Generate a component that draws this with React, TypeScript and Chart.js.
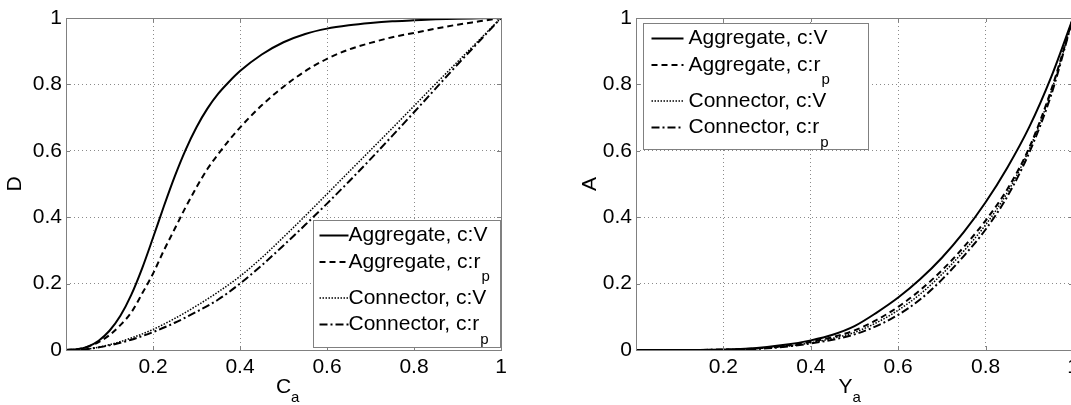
import React, { useEffect, useRef } from "react";
import { Chart, registerables } from "chart.js";

Chart.register(...registerables);

// ---------- data: left panel (D vs C_a) ----------
const aggXLeft = [0, 0.025, 0.05, 0.075, 0.1, 0.125, 0.15, 0.175, 0.2, 0.225, 0.25, 0.275, 0.3, 0.325, 0.35, 0.375, 0.4, 0.45, 0.5, 0.55, 0.6, 0.65, 0.7, 0.75, 0.8, 0.85, 0.9, 0.95, 1];
const aggVLeft = [0, 0.002, 0.01, 0.028, 0.058, 0.103, 0.166, 0.246, 0.338, 0.433, 0.523, 0.603, 0.671, 0.727, 0.772, 0.808, 0.84, 0.89, 0.927, 0.952, 0.968, 0.978, 0.985, 0.99, 0.993, 0.996, 0.998, 0.999, 1];
const aggRpLeft = [0, 0.002, 0.01, 0.024, 0.045, 0.075, 0.113, 0.17, 0.23, 0.3, 0.365, 0.43, 0.49, 0.545, 0.59, 0.632, 0.67, 0.737, 0.793, 0.84, 0.877, 0.905, 0.925, 0.942, 0.955, 0.968, 0.98, 0.99, 1];
const connXLeft = [0, 0.05, 0.1, 0.15, 0.2, 0.25, 0.3, 0.35, 0.4, 0.45, 0.5, 0.55, 0.6, 0.65, 0.7, 0.75, 0.8, 0.85, 0.9, 0.95, 1];
const connVLeft = [0, 0.003, 0.016, 0.036, 0.062, 0.095, 0.133, 0.175, 0.222, 0.278, 0.34, 0.404, 0.47, 0.536, 0.602, 0.668, 0.735, 0.802, 0.868, 0.934, 1];
const connRpLeft = [0, 0.003, 0.014, 0.031, 0.054, 0.082, 0.115, 0.152, 0.2, 0.255, 0.315, 0.377, 0.441, 0.507, 0.575, 0.645, 0.716, 0.788, 0.86, 0.93, 1];

// ---------- data: right panel (A vs Y_a) ----------
const xRight = [0, 0.1, 0.2, 0.25, 0.3, 0.35, 0.4, 0.45, 0.5, 0.55, 0.6, 0.65, 0.7, 0.75, 0.8, 0.85, 0.9, 0.95, 1];
const aggVRight = [0, 0, 0.0015, 0.004, 0.009, 0.017, 0.029, 0.046, 0.072, 0.112, 0.158, 0.213, 0.278, 0.355, 0.445, 0.55, 0.672, 0.822, 1];
const aggRpRight = [0, 0, 0.001, 0.003, 0.007, 0.014, 0.025, 0.039, 0.059, 0.09, 0.13, 0.18, 0.24, 0.31, 0.39, 0.485, 0.61, 0.783, 1];
const connVRight = [0, 0, 0.001, 0.003, 0.006, 0.012, 0.022, 0.035, 0.053, 0.082, 0.12, 0.168, 0.228, 0.298, 0.377, 0.475, 0.605, 0.778, 1];
const connRpRight = [0, 0, 0.001, 0.002, 0.005, 0.011, 0.02, 0.031, 0.047, 0.072, 0.106, 0.152, 0.212, 0.283, 0.363, 0.463, 0.595, 0.768, 1];

// ---------- labels ----------
const tickValues = [0, 0.2, 0.4, 0.6, 0.8, 1];
const legendLabels = ["Aggregate, c:V", "Aggregate, c:r", "Connector, c:V", "Connector, c:r"];
const legendSubs = ["", "p", "", "p"];

const FONT = '"Liberation Sans", Arial, Helvetica, sans-serif';
const MAIN = 21;
const SUB = 15;

const styles = [
  { dash: [] as number[], width: 2 },
  { dash: [6, 4], width: 2 },
  { dash: [1.5, 1.5], width: 1.5 },
  { dash: [8, 3, 2, 3], width: 2 },
];

const pts = (xs: number[], ys: number[]) => xs.map((x, i) => ({ x, y: ys[i] }));

const decorPlugin = {
  id: "decor",
  afterDatasetsDraw(chart: any, _args: any, opts: any) {
    const { ctx, chartArea: a } = chart;
    const xs = chart.scales.x;
    const ys = chart.scales.y;
    ctx.save();
    ctx.setLineDash([]);
    // inward tick marks
    ctx.strokeStyle = "#808080";
    ctx.lineWidth = 1;
    tickValues.forEach((v) => {
      const px = Math.round(xs.getPixelForValue(v)) + 0.5;
      ctx.beginPath();
      ctx.moveTo(px, a.bottom);
      ctx.lineTo(px, a.bottom - 4);
      ctx.moveTo(px, a.top);
      ctx.lineTo(px, a.top + 4);
      const py = Math.round(ys.getPixelForValue(v)) + 0.5;
      ctx.moveTo(a.left, py);
      ctx.lineTo(a.left + 4, py);
      ctx.moveTo(a.right, py);
      ctx.lineTo(a.right - 4, py);
      ctx.stroke();
    });
    // box
    ctx.strokeRect(Math.round(a.left) + 0.5, Math.round(a.top) + 0.5, Math.round(a.right - a.left), Math.round(a.bottom - a.top));

    // legend
    const L = opts.legend;
    const bx = Math.round(a.left + L.dx) + 0.5;
    const by = Math.round(a.top + L.dy) + 0.5;
    ctx.fillStyle = "#ffffff";
    ctx.fillRect(bx, by, L.w, L.h);
    ctx.strokeStyle = "#808080";
    ctx.lineWidth = 1;
    ctx.strokeRect(bx, by, L.w, L.h);
    const rows = [15, 41.5, 77.5, 104];
    legendLabels.forEach((lab, i) => {
      const ry = by + rows[i];
      ctx.strokeStyle = "#000";
      ctx.lineWidth = styles[i].width;
      ctx.setLineDash(styles[i].dash);
      ctx.beginPath();
      ctx.moveTo(bx + L.s0, ry);
      ctx.lineTo(bx + L.s1, ry);
      ctx.stroke();
      ctx.setLineDash([]);
      ctx.fillStyle = "#000";
      ctx.font = `${MAIN}px ${FONT}`;
      ctx.textAlign = "left";
      ctx.textBaseline = "middle";
      ctx.fillText(lab, bx + L.t0, ry);
      if (legendSubs[i]) {
        const w = ctx.measureText(lab).width;
        ctx.font = `${SUB}px ${FONT}`;
        ctx.fillText(legendSubs[i], bx + L.t0 + w + 1, ry + 15);
      }
    });

    // axis titles
    const T = opts.titles;
    ctx.fillStyle = "#000";
    ctx.font = `${MAIN}px ${FONT}`;
    ctx.textBaseline = "middle";
    ctx.textAlign = "center";
    const cx = (a.left + a.right) / 2 + T.xdx;
    ctx.fillText(T.x, cx, T.xy);
    const wMain = ctx.measureText(T.x).width;
    ctx.font = `${SUB}px ${FONT}`;
    ctx.textAlign = "left";
    ctx.fillText(T.xsub, cx + wMain / 2, T.xy + 11);
    ctx.save();
    ctx.font = `${MAIN}px ${FONT}`;
    ctx.textAlign = "center";
    ctx.translate(a.left - T.ydx, (a.top + a.bottom) / 2);
    ctx.rotate(-Math.PI / 2);
    ctx.fillText(T.y, 0, 0);
    ctx.restore();
    ctx.restore();
  },
};

function makeConfig(series: { x: number[]; y: number[] }[], yAxisWidth: number, padRight: number, decor: any) {
  return {
    type: "line" as const,
    data: {
      datasets: series.map((s, i) => ({
        data: pts(s.x, s.y),
        borderColor: "#000",
        borderWidth: styles[i].width,
        borderDash: styles[i].dash,
        pointRadius: 0,
        fill: false,
        cubicInterpolationMode: "monotone" as const,
      })),
    },
    options: {
      animation: false as const,
      responsive: false,
      devicePixelRatio: 1,
      layout: { padding: { left: 0, top: 18, right: padRight, bottom: 0 } },
      plugins: { legend: { display: false }, tooltip: { enabled: false }, decor },
      scales: {
        x: {
          type: "linear" as const,
          min: 0,
          max: 1,
          afterBuildTicks: (s: any) => {
            s.ticks = tickValues.map((v) => ({ value: v }));
          },
          afterFit: (s: any) => {
            s.height = 55;
          },
          ticks: {
            color: "#000",
            font: { family: FONT, size: MAIN },
            padding: 5,
            maxRotation: 0,
            autoSkip: false,
            callback: (v: any) => (v === 0 ? "" : String(Number(Number(v).toFixed(1)))),
          },
          grid: { color: "#8a8a8a", lineWidth: 1, drawTicks: false },
          border: { display: false, dash: [1, 3] },
        },
        y: {
          type: "linear" as const,
          min: 0,
          max: 1,
          afterBuildTicks: (s: any) => {
            s.ticks = tickValues.map((v) => ({ value: v }));
          },
          afterFit: (s: any) => {
            s.width = yAxisWidth;
          },
          ticks: {
            color: "#000",
            font: { family: FONT, size: MAIN },
            padding: 4,
            autoSkip: false,
            callback: (v: any) => String(Number(Number(v).toFixed(1))),
          },
          grid: { color: "#8a8a8a", lineWidth: 1, drawTicks: false },
          border: { display: false, dash: [1, 3] },
        },
      },
    },
    plugins: [decorPlugin],
  };
}

function Panel(props: { left: number; width: number; config: any }) {
  const ref = useRef<HTMLCanvasElement | null>(null);
  useEffect(() => {
    if (!ref.current) return;
    const chart = new Chart(ref.current, props.config);
    return () => chart.destroy();
  }, []);
  return (
    <canvas
      ref={ref}
      width={props.width}
      height={405}
      style={{ position: "absolute", left: props.left, top: 0, width: props.width, height: 405 }}
    />
  );
}

export default function App() {
  const leftCfg = makeConfig(
    [
      { x: aggXLeft, y: aggVLeft },
      { x: aggXLeft, y: aggRpLeft },
      { x: connXLeft, y: connVLeft },
      { x: connXLeft, y: connRpLeft },
    ],
    66,
    39,
    {
      legend: { dx: 247, dy: 202, w: 187, h: 127, s0: 6, s1: 35, t0: 35 },
      titles: { x: "C", xsub: "a", xdx: 0, xy: 387, y: "D", ydx: 51 },
    }
  );
  const rightCfg = makeConfig(
    [
      { x: xRight, y: aggVRight },
      { x: xRight, y: aggRpRight },
      { x: xRight, y: connVRight },
      { x: xRight, y: connRpRight },
    ],
    96,
    47,
    {
      legend: { dx: 7, dy: 5, w: 225, h: 126, s0: 8, s1: 40, t0: 45 },
      titles: { x: "Y", xsub: "a", xdx: -9, xy: 387, y: "A", ydx: 46 },
    }
  );
  return (
    <div style={{ position: "fixed", left: 0, top: 0, width: 1071, height: 405, overflow: "hidden", background: "#fff" }}>
      <Panel left={0} width={540} config={leftCfg} />
      <Panel left={540} width={580} config={rightCfg} />
    </div>
  );
}
